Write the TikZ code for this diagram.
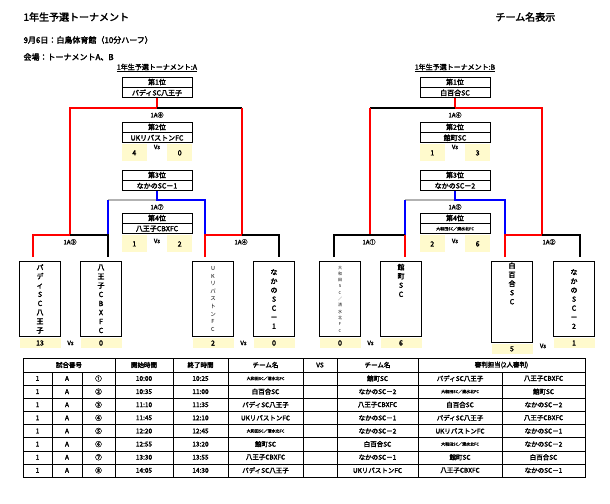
\documentclass[tikz,border=0pt]{standalone}
\usepackage{fontspec}
\setmainfont{Noto Sans CJK JP}[AutoFakeBold=2.5]
\usepackage{tikz}
\usetikzlibrary{positioning,calc}
\definecolor{scorebg}{RGB}{255,250,205}
\definecolor{winred}{RGB}{255,0,0}
\definecolor{thirdblue}{RGB}{0,0,255}
\newcommand{\owteam}{{\fontsize{4}{5}\selectfont 大和田SC／清水北FC}}
\tikzset{
  rankbox/.style={draw, thick, minimum width=70pt, minimum height=10pt, inner sep=0pt, font=\fontsize{7}{8}\bfseries},
  score/.style={fill=scorebg, minimum width=25pt, minimum height=17pt, inner sep=0pt, font=\fontsize{7}{8}\bfseries},
  teambox/.style={draw, thick, minimum width=41pt, minimum height=75pt, anchor=north, inner sep=1pt, align=center, font=\fontsize{7}{9}\bfseries},
  teamscore/.style={fill=scorebg, minimum width=41pt, minimum height=10pt, inner sep=0pt, anchor=north, font=\fontsize{7}{8}\bfseries},
  win/.style={winred, line width=2.5pt},
  lose/.style={black, line width=2.5pt},
  bronze/.style={thirdblue, line width=2.5pt},
  fourth/.style={gray!60, line width=2.5pt},
  lbl/.style={font=\fontsize{6}{7}\bfseries, inner sep=0pt},
}
\begin{document}
\begin{tikzpicture}[x=1pt,y=-1pt]
  \useasboundingbox (0,0) rectangle (610,503);
  % Headings
  \node[anchor=west, font=\fontsize{10}{12}\bfseries] (title) at (20,17) {1年生予選トーナメント};
  \node[anchor=west, font=\fontsize{10}{12}\bfseries] (mode) at (492,17) {チーム名表示};
  \node[anchor=west, font=\fontsize{8}{10}\bfseries] (date) at (20,40) {9月6日：白鳥体育館（10分ハーフ）};
  \node[anchor=west, font=\fontsize{8}{10}\bfseries] (venue) at (20,57) {会場：トーナメントA、B};

  % ---------- Tournament A ----------
  \node[lbl, font=\fontsize{7}{8}\bfseries] (headA) at (157,68) {\underline{1年生予選トーナメント:A}};
  \node[rankbox] (a1r) at (157,82) {第1位};
  \node[rankbox, below=0pt of a1r] (a1t) {パディSC八王子};
  \node[lbl] (a8) at (157,115) {1A⑧};
  \node[rankbox] (a2r) at (157,127) {第2位};
  \node[rankbox, below=0pt of a2r] (a2t) {UKリバストンFC};
  \node[score, below right=1pt and 0pt of a2t.south west] (a2s1) {4};
  \node[lbl] (a2vs) at (157,147) {Vs};
  \node[score, below left=1pt and 0pt of a2t.south east] (a2s2) {0};
  \node[rankbox] (a3r) at (157,175) {第3位};
  \node[rankbox, below=0pt of a3r] (a3t) {なかのSC－1};
  \node[lbl] (a7) at (157,207) {1A⑦};
  \node[rankbox] (a4r) at (157,218) {第4位};
  \node[rankbox, below=0pt of a4r] (a4t) {八王子CBXFC};
  \node[score, below right=1pt and 0pt of a4t.south west] (a4s1) {1};
  \node[lbl] (a4vs) at (157,241) {Vs};
  \node[score, below left=1pt and 0pt of a4t.south east] (a4s2) {2};

  % final A
  \draw[win] (a1t.south) -- (157,108) -- (70,108) -- (70,235);
  \draw[lose] (157,108) -- (242,108);
  \draw[win] (242,108) -- (242,235);
  % 3rd place A
  \draw[fourth] (108,200) -- (157,200);
  \draw[bronze] (a3t.south) -- (157,200) -- (205,200) -- (205,235);
  \draw[bronze] (108,200) -- (108,235);
  % first round A
  \draw[win] (33,257) -- (33,235) -- (70,235);
  \draw[lose] (70,235) -- (108,235) -- (108,257);
  \draw[win] (205,257) -- (205,235) -- (242,235);
  \draw[lose] (242,235) -- (279,235) -- (279,257);
  \node[lbl] (a3) at (70,242) {1A③};
  \node[lbl] (a4) at (241,242) {1A④};

  % ---------- Tournament B ----------
  \node[lbl, font=\fontsize{7}{8}\bfseries] (headB) at (455,68) {\underline{1年生予選トーナメント:B}};
  \node[rankbox] (b1r) at (455,82) {第1位};
  \node[rankbox, below=0pt of b1r] (b1t) {白百合SC};
  \node[lbl] (b6) at (455,115) {1A⑥};
  \node[rankbox] (b2r) at (455,127) {第2位};
  \node[rankbox, below=0pt of b2r] (b2t) {館町SC};
  \node[score, below right=1pt and 0pt of b2t.south west] (b2s1) {1};
  \node[lbl] (b2vs) at (455,147) {Vs};
  \node[score, below left=1pt and 0pt of b2t.south east] (b2s2) {3};
  \node[rankbox] (b3r) at (455,175) {第3位};
  \node[rankbox, below=0pt of b3r] (b3t) {なかのSC－2};
  \node[lbl] (b5) at (455,207) {1A⑤};
  \node[rankbox] (b4r) at (455,218) {第4位};
  \node[rankbox, below=0pt of b4r] (b4t) {\owteam};
  \node[score, below right=1pt and 0pt of b4t.south west] (b4s1) {2};
  \node[lbl] (b4vs) at (455,241) {Vs};
  \node[score, below left=1pt and 0pt of b4t.south east] (b4s2) {6};

  % final B
  \draw[win] (b1t.south) -- (455,108) -- (542,108) -- (542,235);
  \draw[lose] (455,108) -- (370,108);
  \draw[win] (370,108) -- (370,235);
  % 3rd place B
  \draw[fourth] (405,200) -- (455,200);
  \draw[bronze] (b3t.south) -- (455,200) -- (505,200) -- (505,235);
  \draw[bronze] (405,200) -- (405,235);
  % first round B
  \draw[lose] (334,257) -- (334,235) -- (405,235);
  \draw[win] (405,235) -- (405,257);
  \draw[win] (505,257) -- (505,235) -- (542,235);
  \draw[lose] (542,235) -- (580,235) -- (580,257);
  \node[lbl] (b1) at (369,242) {1A①};
  \node[lbl] (b2) at (549,242) {1A②};

  % ---------- Teams ----------
  \node[teambox] (t1) at (40,261) {パ\\デ\\ィ\\S\\C\\八\\王\\子};
  \node[teambox] (t2) at (101,261) {八\\王\\子\\C\\B\\X\\F\\C};
  \node[teambox, font=\fontsize{5.5}{7.6}\selectfont] (t3) at (213,261) {U\\K\\リ\\バ\\ス\\ト\\ン\\F\\C};
  \node[teambox] (t4) at (274,261) {な\\か\\の\\S\\C\\－\\1};
  \node[teambox, font=\fontsize{4}{6.3}\selectfont] (t5) at (340,261) {大\\和\\田\\S\\C\\／\\清\\水\\北\\F\\C};
  \node[teambox] (t6) at (401,261) {館\\町\\S\\C\\[28pt]};
  \node[teambox] (t7) at (512,261) {白\\百\\合\\S\\C\\[28pt]};
  \node[teambox] (t8) at (574,261) {な\\か\\の\\S\\C\\－\\2};
  \foreach \t/\s in {t1/13,t2/0,t3/2,t4/0,t5/0,t6/6,t7/5,t8/1}
    \node[teamscore] (\t s) at ([yshift=-1pt]\t.south) {\s};
  \foreach \a/\b in {t1/t2,t3/t4,t5/t6,t7/t8}
    \node[lbl] at ($(\a s)!0.5!(\b s)$) {Vs};

  % ---------- Schedule table ----------
  \draw[thick] (23,358) rectangle (585,477);
  \foreach \x in {115,173,228,303,337,418} \draw (\x,358) -- (\x,477);
  \foreach \x in {52,82,502} \draw (\x,372) -- (\x,477);
  \foreach \i in {0,...,7} \draw (23,372+13.125*\i) -- (585,372+13.125*\i);
  \begin{scope}[every node/.style={font=\fontsize{6.5}{8}\bfseries, inner sep=0pt}]
    \node at (69,365) {試合番号};
    \node at (144,365) {開始時間};
    \node at (200.5,365) {終了時間};
    \node at (265.5,365) {チーム名};
    \node at (320,365) {VS};
    \node at (377.5,365) {チーム名};
    \node at (501.5,365) {審判担当(2人審判)};
    \foreach \n/\s/\e/\ta/\tb/\ra/\rb [count=\i from 0] in {
      ①/10:00/10:25/\owteam/館町SC/パディSC八王子/八王子CBXFC,
      ②/10:35/11:00/白百合SC/なかのSC－2/\owteam/館町SC,
      ③/11:10/11:35/パディSC八王子/八王子CBXFC/白百合SC/なかのSC－2,
      ④/11:45/12:10/UKリバストンFC/なかのSC－1/パディSC八王子/八王子CBXFC,
      ⑤/12:20/12:45/\owteam/なかのSC－2/UKリバストンFC/なかのSC－1,
      ⑥/12:55/13:20/館町SC/白百合SC/\owteam/なかのSC－2,
      ⑦/13:30/13:55/八王子CBXFC/なかのSC－1/館町SC/白百合SC,
      ⑧/14:05/14:30/パディSC八王子/UKリバストンFC/八王子CBXFC/なかのSC－1} {
      \pgfmathsetmacro{\yy}{378.5+13.125*\i}
      \node at (37.5,\yy) {1};
      \node at (67,\yy) {A};
      \node at (98.5,\yy) {\n};
      \node at (144,\yy) {\s};
      \node at (200.5,\yy) {\e};
      \node at (265.5,\yy) {\ta};
      \node at (377.5,\yy) {\tb};
      \node at (460,\yy) {\ra};
      \node at (543.5,\yy) {\rb};
    }
  \end{scope}
\end{tikzpicture}
\end{document}
